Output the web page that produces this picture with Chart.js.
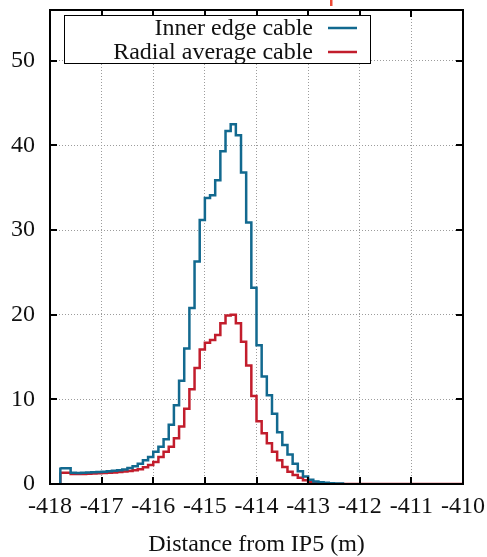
<!DOCTYPE html>
<html>
<head>
<meta charset="utf-8">
<script src="https://cdn.jsdelivr.net/npm/chart.js@4"></script>
<style>
  html, body { margin: 0; padding: 0; background: #fff; }
  canvas { display: block; }
</style>
</head>
<body>
<canvas id="cableChart" width="487" height="557"></canvas>
<script>
// histogram bins: 0.1 m wide, starting at -418 m
const binStart = -418;
const binWidth = 0.1;
const xTicks = [-418, -417, -416, -415, -414, -413, -412, -411, -410];
const yTicks = [0, 10, 20, 30, 40, 50];
const seriesNames = ['Inner edge cable', 'Radial average cable'];

const innerEdge = [
  null, null, 1.95, 1.85, 1.85, 1.32, 1.30, 1.33, 1.35, 1.38,
  1.42, 1.45, 1.50, 1.56, 1.62, 1.72, 1.88, 2.10, 2.40, 2.80,
  3.20, 3.80, 4.40, 5.30, 7.00, 9.30, 12.2, 16.0, 20.8, 26.3,
  31.2, 33.8, 34.1, 35.9, 39.3, 41.7, 42.5, 41.2, 36.8, 30.9,
  23.2, 16.4, 12.7, 10.5, 8.30, 6.10, 4.60, 3.50, 2.40, 1.50,
  0.90, 0.50, 0.30, 0.20, 0.15, 0.10, 0.05, null, null, null,
  null, null, null, null, null, null, null, null, null, null,
  null, null, null, null, null, null, null, null, null, null
];

const radialAverage = [
  null, null, 1.35, 1.34, 1.34, 1.17, 1.17, 1.19, 1.21, 1.24,
  1.27, 1.30, 1.33, 1.37, 1.42, 1.48, 1.55, 1.62, 1.75, 1.97,
  2.25, 2.60, 3.20, 3.80, 4.40, 5.40, 6.80, 8.90, 11.2, 13.7,
  15.9, 16.7, 17.0, 17.6, 19.0, 19.9, 20.0, 19.0, 16.8, 14.0,
  10.4, 7.40, 6.00, 4.80, 3.80, 2.80, 2.00, 1.45, 1.05, 0.75,
  0.45, 0.25, 0.12, 0.06, 0.03, 0, 0, 0, 0, 0,
  0, 0, 0, 0, 0, 0, 0, 0, 0, 0,
  0, 0, 0, 0, 0, 0, 0, 0, 0, 0
];

const BLUE = '#12698f';
const RED = '#c21d2c';
const FONT = 'Liberation Serif, Times New Roman, serif';
const TEXT = '#111';

// turn bin contents into step-line vertices (gnuplot "histeps" look)
function toSteps(values) {
  const pts = [];
  let last = null;
  values.forEach((v, i) => {
    if (v === null) return;
    const x0 = binStart + i * binWidth;
    if (!pts.length) pts.push({ x: x0, y: 0 });
    pts.push({ x: x0, y: v });
    last = { x: x0 + binWidth, y: v };
  });
  if (last) pts.push(last);
  return pts;
}

// frame, inward tick marks, legend box
const framePlugin = {
  id: 'frame',
  afterDatasetsDraw(chart) {
    const { ctx, chartArea: a, scales } = chart;
    ctx.save();
    ctx.strokeStyle = '#000';
    ctx.lineWidth = 2;
    ctx.beginPath();
    xTicks.forEach(v => {
      const px = Math.round(scales.x.getPixelForValue(v));
      ctx.moveTo(px, a.bottom); ctx.lineTo(px, a.bottom - 7);
      ctx.moveTo(px, a.top); ctx.lineTo(px, a.top + 7);
    });
    yTicks.forEach(v => {
      const py = Math.round(scales.y.getPixelForValue(v));
      ctx.moveTo(a.left, py); ctx.lineTo(a.left + 7, py);
      ctx.moveTo(a.right, py); ctx.lineTo(a.right - 7, py);
    });
    ctx.stroke();
    ctx.strokeRect(a.left, a.top, a.right - a.left, a.bottom - a.top);

    // legend
    ctx.fillStyle = '#fff';
    ctx.fillRect(64.5, 15.5, 306, 48);
    ctx.lineWidth = 1;
    ctx.strokeRect(64.5, 15.5, 306, 48);
    ctx.fillStyle = TEXT;
    ctx.font = '24px ' + FONT;
    ctx.textAlign = 'right';
    ctx.textBaseline = 'alphabetic';
    const rows = [[seriesNames[0], BLUE, 35, 28], [seriesNames[1], RED, 59, 52]];
    rows.forEach(([text, color, base, ly]) => {
      ctx.fillText(text, 313, base);
      ctx.strokeStyle = color;
      ctx.lineWidth = 2.5;
      ctx.beginPath();
      ctx.moveTo(328, ly); ctx.lineTo(357, ly);
      ctx.stroke();
    });

    // stray mark above the frame
    ctx.fillStyle = '#ee4a36';
    ctx.fillRect(330, 0, 2.5, 6);
    ctx.restore();
  }
};

new Chart(document.getElementById('cableChart'), {
  type: 'line',
  data: {
    datasets: [
      {
        label: seriesNames[0],
        data: toSteps(innerEdge),
        borderColor: BLUE,
        borderWidth: 2.5,
        stepped: 'after',
        pointRadius: 0,
        fill: false
      },
      {
        label: seriesNames[1],
        data: toSteps(radialAverage),
        borderColor: RED,
        borderWidth: 2.5,
        stepped: 'after',
        pointRadius: 0,
        fill: false
      }
    ]
  },
  options: {
    responsive: false,
    animation: false,
    events: [],
    layout: { padding: { top: 10, right: 24, left: 0, bottom: 0 } },
    plugins: {
      legend: { display: false },
      tooltip: { enabled: false }
    },
    scales: {
      x: {
        type: 'linear',
        min: -418,
        max: -410,
        afterBuildTicks: s => { s.ticks = xTicks.map(v => ({ value: v })); },
        afterFit: s => { s.height = 73; s.paddingLeft = 0; s.paddingRight = 0; },
        ticks: {
          font: { family: FONT, size: 24 },
          color: TEXT,
          padding: 8,
          maxRotation: 0,
          autoSkip: false,
          callback: v => String(v)
        },
        grid: { color: '#9c9c9c', lineWidth: 1, drawTicks: false },
        border: { display: false, dash: [1, 2] },
        title: {
          display: true,
          text: 'Distance from IP5 (m)',
          font: { family: FONT, size: 24, lineHeight: 1 },
          color: TEXT,
          padding: { top: 0, bottom: 0 }
        }
      },
      y: {
        min: 0,
        max: 56,
        afterBuildTicks: s => { s.ticks = yTicks.map(v => ({ value: v })); },
        afterFit: s => { s.width = 50; s.paddingTop = 0; s.paddingBottom = 0; },
        ticks: {
          font: { family: FONT, size: 24 },
          color: TEXT,
          padding: 15,
          callback: v => String(v)
        },
        grid: { color: '#9c9c9c', lineWidth: 1, drawTicks: false },
        border: { display: false, dash: [1, 2] }
      }
    }
  },
  plugins: [framePlugin]
});
</script>
</body>
</html>
